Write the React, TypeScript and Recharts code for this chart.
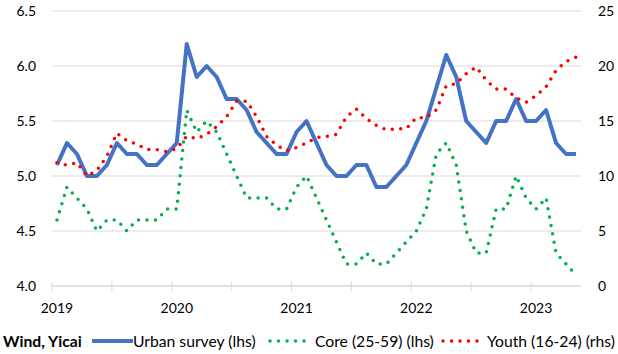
import React from 'react';
import { ComposedChart, Line, XAxis, YAxis, CartesianGrid } from 'recharts';

// Month index 0 = Jan 2019 ... 52 = May 2023
const yearLabels = ['2019', '2020', '2021', '2022', '2023'];

const urban = [
  5.1, 5.3, 5.2, 5.0, 5.0, 5.1, 5.3, 5.2, 5.2, 5.1, 5.1, 5.2,
  5.3, 6.2, 5.9, 6.0, 5.9, 5.7, 5.7, 5.6, 5.4, 5.3, 5.2, 5.2,
  5.4, 5.5, 5.3, 5.1, 5.0, 5.0, 5.1, 5.1, 4.9, 4.9, 5.0, 5.1,
  5.3, 5.5, 5.8, 6.1, 5.9, 5.5, 5.4, 5.3, 5.5, 5.5, 5.7, 5.5,
  5.5, 5.6, 5.3, 5.2, 5.2,
];

const core = [
  4.6, 4.9, 4.8, 4.7, 4.5, 4.6, 4.6, 4.5, 4.6, 4.6, 4.6, 4.7,
  4.7, 5.6, 5.4, 5.5, 5.4, 5.2, 5.0, 4.8, 4.8, 4.8, 4.7, 4.7,
  4.9, 5.0, 4.8, 4.6, 4.4, 4.2, 4.2, 4.3, 4.2, 4.2, 4.3, 4.4,
  4.5, 4.7, 5.2, 5.3, 5.1, 4.5, 4.3, 4.3, 4.7, 4.7, 5.0, 4.8,
  4.7, 4.8, 4.3, 4.2, 4.1,
];

const youth = [
  11.2, 11.0, 11.2, 10.0, 10.5, 11.8, 13.9, 13.2, 12.9, 12.4, 12.4, 12.2,
  12.5, 13.6, 13.4, 13.8, 14.5, 15.4, 16.8, 16.8, 15.4, 13.6, 12.8, 12.3,
  12.6, 13.0, 13.5, 13.6, 13.8, 15.4, 16.1, 15.2, 14.6, 14.2, 14.3, 14.3,
  15.3, 15.3, 16.0, 18.2, 18.4, 19.3, 19.9, 18.7, 17.9, 17.9, 17.1, 16.7,
  17.3, 18.1, 19.6, 20.4, 20.8,
];

const leftTicks = [4.0, 4.5, 5.0, 5.5, 6.0, 6.5];
const rightTicks = [0, 5, 10, 15, 20, 25];

const data = urban.map((u, i) => ({ i, urban: u, core: core[i], youth: youth[i] }));

// tick marks every half year (at month boundaries), labels at January of each year
const xTicks: number[] = [];
for (let k = 0; k < 9; k++) xTicks.push(-0.5 + 6 * k);
yearLabels.forEach((_, k) => xTicks.push(12 * k));
xTicks.sort((a, b) => a - b);

const FONT = 'Lato, "Open Sans", sans-serif';
const GRID = '#D9D9D9';
const BLUE = '#4472C4';
const GREEN = '#00B050';
const RED = '#FF0000';

function XTick(props: any) {
  const { x, y, payload } = props;
  const v = payload.value;
  if (Number.isInteger(v)) {
    return (
      <text x={x} y={y + 27} textAnchor="middle" fontFamily={FONT} fontSize={14} fill="#000">
        {yearLabels[v / 12]}
      </text>
    );
  }
  return <line x1={x} x2={x} y1={y - 4} y2={y + 5} stroke={GRID} strokeWidth={1} />;
}

const legendText: React.CSSProperties = {
  position: 'absolute',
  top: 331,
  height: 20,
  lineHeight: '20px',
  fontFamily: FONT,
  fontSize: 15.7,
  color: '#000',
  whiteSpace: 'nowrap',
};

function DotSwatch({ left, width, color }: { left: number; width: number; color: string }) {
  return (
    <svg style={{ position: 'absolute', left, top: 336 }} width={width} height={10}>
      <line x1={2} x2={width - 2} y1={5} y2={5} stroke={color} strokeWidth={3.5} strokeDasharray="0 8.5" strokeLinecap="round" />
    </svg>
  );
}

export default function App() {
  return (
    <div style={{ position: 'absolute', left: 0, top: 0, width: 618, height: 354, background: '#fff' }}>
      <ComposedChart width={618} height={354} data={data} margin={{ top: 11, right: 0, bottom: 38, left: 0 }}>
        <CartesianGrid yAxisId="left" vertical={false} stroke={GRID} strokeWidth={1} />
        <XAxis
          type="number"
          dataKey="i"
          domain={[-0.5, 52.5]}
          ticks={xTicks}
          interval={0}
          tickSize={0}
          tickMargin={0}
          tickLine={false}
          tick={<XTick />}
          axisLine={{ stroke: GRID, strokeWidth: 1 }}
          height={30}
        />
        <YAxis
          yAxisId="left"
          domain={[4, 6.5]}
          ticks={leftTicks}
          tickFormatter={(v: number) => v.toFixed(1)}
          axisLine={false}
          tickLine={false}
          tickSize={0}
          tickMargin={16}
          width={52}
          tick={{ fontSize: 14, fill: '#000', fontFamily: FONT }}
        />
        <YAxis
          yAxisId="right"
          orientation="right"
          domain={[0, 25]}
          ticks={rightTicks}
          axisLine={false}
          tickLine={false}
          tickSize={0}
          tickMargin={17}
          width={37}
          tick={{ fontSize: 14, fill: '#000', fontFamily: FONT }}
        />
        <Line
          yAxisId="left"
          type="linear"
          dataKey="urban"
          stroke={BLUE}
          strokeWidth={4}
          strokeLinejoin="round"
          dot={false}
          isAnimationActive={false}
        />
        <Line
          yAxisId="left"
          type="linear"
          dataKey="core"
          stroke={GREEN}
          strokeWidth={3.5}
          strokeDasharray="0 8.5"
          strokeLinecap="round"
          dot={false}
          isAnimationActive={false}
        />
        <Line
          yAxisId="right"
          type="linear"
          dataKey="youth"
          stroke={RED}
          strokeWidth={3.5}
          strokeDasharray="0 8.5"
          strokeLinecap="round"
          dot={false}
          isAnimationActive={false}
        />
      </ComposedChart>

      <div style={{ ...legendText, left: 3, fontWeight: 700 }}>Wind, Yicai</div>
      <svg style={{ position: 'absolute', left: 92, top: 336 }} width={41} height={10}>
        <line x1={0} x2={41} y1={5} y2={5} stroke={BLUE} strokeWidth={4} strokeLinecap="round" />
      </svg>
      <div style={{ ...legendText, left: 133 }}>Urban survey (lhs)</div>
      <DotSwatch left={268} width={42} color={GREEN} />
      <div style={{ ...legendText, left: 315 }}>Core (25-59) (lhs)</div>
      <DotSwatch left={441} width={44} color={RED} />
      <div style={{ ...legendText, left: 487 }}>Youth (16-24) (rhs)</div>
    </div>
  );
}
